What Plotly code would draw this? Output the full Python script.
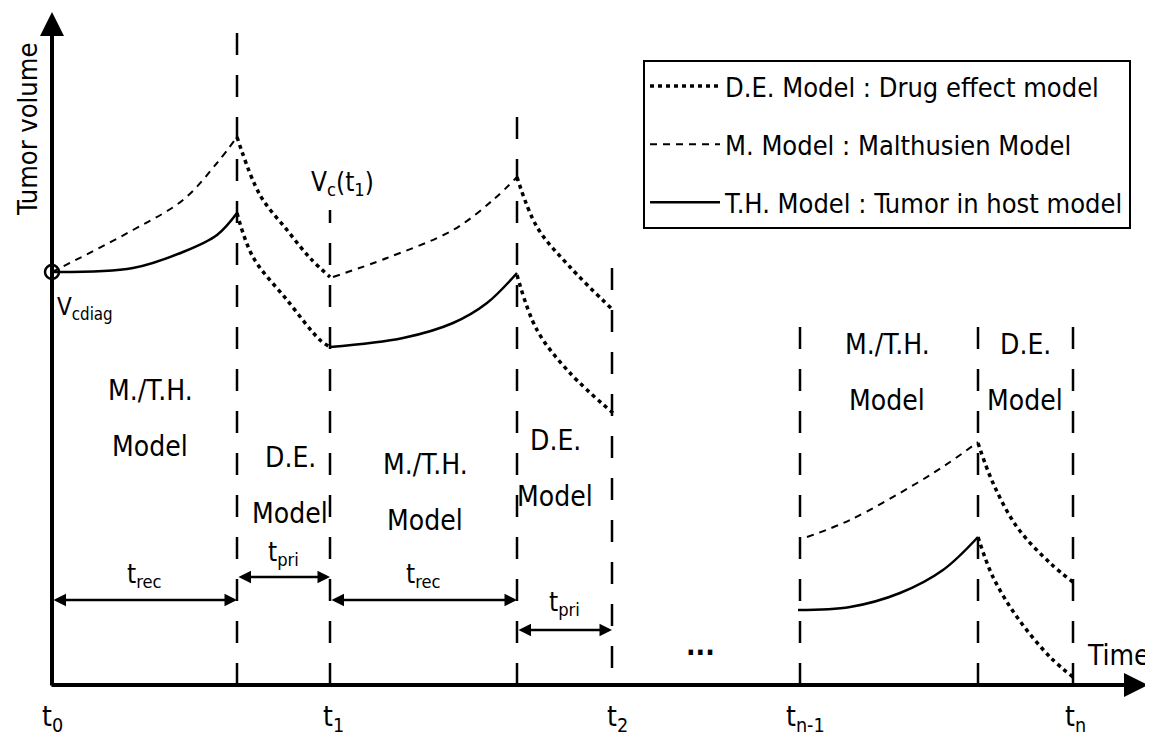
import plotly.graph_objects as go

# ---- data (time units, volume units; schematic) ----
# M. model (Malthusian) growth phases
m_t = [[0, 81, 131, 165, 185], [281, 335, 401, 441, 465], [755, 798, 865, 898, 926]]
m_v = [[413, 455, 485, 522, 548], [408, 427, 455, 485, 508], [148, 165, 202, 223, 243]]
# T.H. model (tumor in host) growth phases
th_t = [[0, 81, 131, 165, 185], [278, 351, 401, 435, 465], [746, 798, 848, 891, 926]]
th_v = [[413, 417, 433, 450, 472], [338, 347, 362, 382, 412], [75, 78, 92, 115, 148]]
# D.E. model (drug effect) decay phases
de_t = [[185, 208, 235, 258, 278], [185, 201, 235, 268, 278],
        [465, 485, 518, 561], [465, 485, 518, 561],
        [926, 941, 965, 998, 1021], [926, 941, 965, 998, 1021]]
de_v = [[548, 490, 455, 427, 408], [472, 428, 385, 345, 338],
        [508, 458, 418, 375], [410, 355, 312, 272],
        [242, 202, 158, 122, 103], [148, 108, 68, 28, 8]]

# phase boundaries
bound_t = [185, 278, 465, 560, 748, 926, 1021]
bound_top = [652, 475, 575, 417, 365, 365, 365]
bound_bot = [0, 0, 0, 17, 0, 0, 0]

# time tick labels
tick_t = [0, 281, 565, 753, 1023]
tick_lbl = ["t<sub>0</sub>", "t<sub>1</sub>", "t<sub>2</sub>", "t<sub>n-1</sub>", "t<sub>n</sub>"]

# phase labels
phase_t = [98, 238, 373, 503, 835, 973]
phase_v = [267, 200, 193, 217, 313, 313]
phase_lbl = ["M./T.H.", "D.E.", "M./T.H.", "D.E.", "M./T.H.", "D.E."]

# duration arrows
dur_start = [0, 185, 278, 465]
dur_end = [185, 278, 465, 560]
dur_v = [85, 108, 85, 55]
dur_lbl = ["t<sub>rec</sub>", "t<sub>pri</sub>", "t<sub>rec</sub>", "t<sub>pri</sub>"]
dur_lbl_v = [110, 132, 110, 82]

v_diag = 413

FONT = "Liberation Sans Narrow, DejaVu Sans Condensed, Arial Narrow, sans-serif"


def join(ts, vs):
    X, Y = [], []
    for t, v in zip(ts, vs):
        X += t + [None]
        Y += v + [None]
    return X, Y


fig = go.Figure()

bx, by = [], []
for t, a, b in zip(bound_t, bound_top, bound_bot):
    bx += [t, t, None]
    by += [b, a, None]
fig.add_trace(go.Scatter(x=bx, y=by, mode="lines", showlegend=False,
                         line=dict(color="black", width=2.5, dash="22px,20px"), hoverinfo="skip"))

x, y = join(de_t, de_v)
fig.add_trace(go.Scatter(x=x, y=y, mode="lines", name="D.E. Model : Drug effect model",
                         legendgroup="a", line=dict(color="black", width=3.5, dash="4px,4px", shape="spline")))
x, y = join(m_t, m_v)
fig.add_trace(go.Scatter(x=x, y=y, mode="lines", name="M. Model : Malthusien Model",
                         legendgroup="b", line=dict(color="black", width=2, dash="7px,6px", shape="spline")))
x, y = join(th_t, th_v)
fig.add_trace(go.Scatter(x=x, y=y, mode="lines", name="T.H. Model : Tumor in host model",
                         legendgroup="c", line=dict(color="black", width=2.5, shape="spline")))

fig.add_trace(go.Scatter(x=[0], y=[v_diag], mode="markers", showlegend=False,
                         marker=dict(symbol="circle-open", size=14, color="black", line=dict(width=2.5))))

ann = []
# axes arrows
ann.append(dict(x=1096, y=0, ax=-2, ay=0, xref="x", yref="y", axref="x", ayref="y", text="",
                showarrow=True, arrowhead=2, arrowsize=1.2, arrowwidth=4, arrowcolor="black"))
ann.append(dict(x=0, y=673, ax=0, ay=-2, xref="x", yref="y", axref="x", ayref="y", text="",
                showarrow=True, arrowhead=2, arrowsize=1.2, arrowwidth=4, arrowcolor="black"))
# duration arrows
for s, e, v in zip(dur_start, dur_end, dur_v):
    ann.append(dict(x=e, y=v, ax=s, ay=v, xref="x", yref="y", axref="x", ayref="y", text="",
                    showarrow=True, arrowhead=2, arrowside="end+start", arrowsize=1, arrowwidth=2.5,
                    arrowcolor="black"))
for s, e, v, l in zip(dur_start, dur_end, dur_lbl_v, dur_lbl):
    ann.append(dict(x=(s + e) / 2, y=v, text=l, showarrow=False, font=dict(size=26)))
# phase labels
for t, v, l in zip(phase_t, phase_v, phase_lbl):
    ann.append(dict(x=t, y=v + 28, text=l, showarrow=False, font=dict(size=28)))
    ann.append(dict(x=t, y=v - 28, text="Model", showarrow=False, font=dict(size=28)))
# ticks
for t, l in zip(tick_t, tick_lbl):
    ann.append(dict(x=t, y=-33, text=l, showarrow=False, font=dict(size=28)))
ann.append(dict(x=33, y=377, text="V<sub>cdiag</sub>", showarrow=False, font=dict(size=24)))
ann.append(dict(x=290, y=502, text="V<sub>c</sub>(t<sub>1</sub>)", showarrow=False, font=dict(size=26)))
ann.append(dict(x=1066, y=30, text="Time", showarrow=False, font=dict(size=28)))
ann.append(dict(x=648, y=40, text="<b>...</b>", showarrow=False, font=dict(size=28)))
ann.append(dict(x=-25, y=555, text="Tumor volume", textangle=-90, showarrow=False, font=dict(size=27)))

fig.update_layout(
    width=1145, height=730, margin=dict(l=0, r=0, t=0, b=0),
    paper_bgcolor="white", plot_bgcolor="white",
    font=dict(family=FONT, color="black", size=26),
    xaxis=dict(range=[-44, 1101], visible=False, fixedrange=True),
    yaxis=dict(range=[-53, 677], visible=False, fixedrange=True),
    annotations=ann,
    legend=dict(x=0.5546, y=0.9288, xanchor="left", yanchor="top", bordercolor="black", borderwidth=2,
                bgcolor="white", font=dict(size=27), itemwidth=70, tracegroupgap=20),
    showlegend=True,
)

fig.write_html("out.html")
